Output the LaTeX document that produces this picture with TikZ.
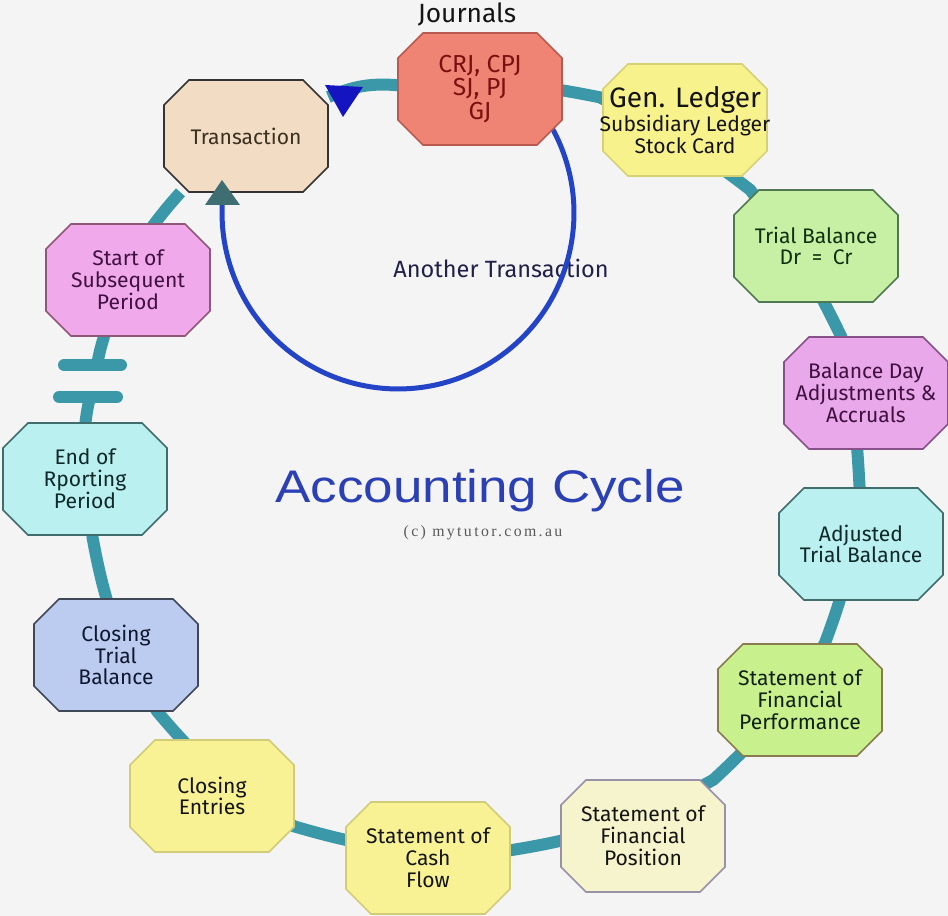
\documentclass[tikz,border=0pt]{standalone}
\usepackage{fontspec}
\setmainfont{Fira Sans}
\newfontfamily\titlefont{Liberation Sans}
\newfontfamily\cpyfont[LetterSpace=15]{Liberation Serif}
\pgfdeclarelayer{bg}
\pgfdeclarelayer{back}
\pgfdeclarelayer{mid}
\pgfsetlayers{bg,back,mid,main}
\definecolor{pagec}{HTML}{F4F4F4}
\definecolor{ringc}{HTML}{3A98A8}
\definecolor{loopblue}{HTML}{2444C8}
\definecolor{tipdark}{HTML}{3E6E72}
\definecolor{tipblue}{HTML}{1414C0}
\definecolor{titleblue}{HTML}{2A40B4}
\definecolor{navy}{HTML}{202048}
% box colours
\definecolor{transF}{HTML}{F2DCC4}\definecolor{transD}{HTML}{333333}\definecolor{transT}{HTML}{3A3020}
\definecolor{crjF}{HTML}{F08474}\definecolor{crjD}{HTML}{B85A50}\definecolor{crjT}{HTML}{7A1010}
\definecolor{yelF}{HTML}{F8F28C}\definecolor{yelD}{HTML}{D6D274}\definecolor{darkT}{HTML}{141414}
\definecolor{tbF}{HTML}{C8F0A4}\definecolor{tbD}{HTML}{507850}\definecolor{tbT}{HTML}{103010}
\definecolor{bdF}{HTML}{E8A8EA}\definecolor{bdD}{HTML}{885088}\definecolor{bdT}{HTML}{401040}
\definecolor{cyF}{HTML}{BAF0F0}\definecolor{cyD}{HTML}{406C6C}\definecolor{cyT}{HTML}{102828}
\definecolor{sfpF}{HTML}{C8F08C}\definecolor{sfpD}{HTML}{8A7A50}\definecolor{sfpT}{HTML}{102010}
\definecolor{posF}{HTML}{F6F4CC}\definecolor{posD}{HTML}{9A90A8}
\definecolor{ceF}{HTML}{F8F294}\definecolor{ceD}{HTML}{D0CC78}
\definecolor{ctbF}{HTML}{BCCCF0}\definecolor{ctbD}{HTML}{404858}\definecolor{ctbT}{HTML}{101830}
\definecolor{stF}{HTML}{F0AAEC}\definecolor{stD}{HTML}{905878}\definecolor{stT}{HTML}{401040}
% octagon outline of a box, fixed size 164 x 112, chamfer 25
\newcommand{\octbox}[3]{%
  \filldraw[fill=#2, draw=#3, line width=0.9pt]
    ([shift={(-57,56)}]#1.center) -- ([shift={(57,56)}]#1.center)
    -- ([shift={(82,31)}]#1.center) -- ([shift={(82,-31)}]#1.center)
    -- ([shift={(57,-56)}]#1.center) -- ([shift={(-57,-56)}]#1.center)
    -- ([shift={(-82,-31)}]#1.center) -- ([shift={(-82,31)}]#1.center) -- cycle;}
\begin{document}
\begin{tikzpicture}[x=0.02cm,y=0.02cm,
  box/.style={rectangle, minimum width=3.28cm, minimum height=2.24cm,
    inner sep=0pt, align=center, font=\fontsize{12}{12.4}\selectfont},
  ring/.style={draw=ringc, line width=0.24cm},
  bar/.style={draw=ringc, line width=0.24cm, line cap=round},
  loopline/.style={draw=loopblue, line width=0.1cm}]
\begin{pgfonlayer}{bg}
\fill[pagec] (0,0) rectangle (948,916);
\end{pgfonlayer}
\useasboundingbox (0,0) rectangle (948,916);

% boxes (text)
\node[box, text=transT] (trans) at (246,780) {Transaction};
\node[box, text=crjT, font=\fontsize{14}{12}\selectfont] (crj) at (480,827) {CRJ, CPJ\\SJ, PJ\\GJ};
\node[box, text=darkT] (gen) at (685,796)
  {{\fontsize{16}{16}\selectfont Gen. Ledger}\\Subsidiary Ledger\\Stock Card};
\node[box, text=tbT] (tb) at (816,670) {Trial Balance\\Dr\enspace=\enspace Cr};
\node[box, text=bdT] (bd) at (866,523) {Balance Day\\Adjustments \&\\Accruals};
\node[box, text=cyT] (atb) at (861,372) {Adjusted\\Trial Balance};
\node[box, text=sfpT] (sfp) at (800,216) {Statement of\\Financial\\Performance};
\node[box, text=darkT] (sfpos) at (643,80) {Statement of\\Financial\\Position};
\node[box, text=darkT] (scf) at (428,58) {Statement of\\Cash\\Flow};
\node[box, text=darkT] (ce) at (212,120) {Closing\\Entries};
\node[box, text=ctbT] (ctb) at (116,261) {Closing\\Trial\\Balance};
\node[box, text=cyT] (endp) at (85,437) {End of\\Rporting\\Period};
\node[box, text=stT] (start) at (128,636) {Start of\\Subsequent\\Period};

% box outlines
\begin{pgfonlayer}{mid}
\octbox{trans}{transF}{transD}
\octbox{crj}{crjF}{crjD}
\octbox{gen}{yelF}{yelD}
\octbox{tb}{tbF}{tbD}
\octbox{bd}{bdF}{bdD}
\octbox{atb}{cyF}{cyD}
\octbox{sfp}{sfpF}{sfpD}
\octbox{sfpos}{posF}{posD}
\octbox{scf}{ceF}{ceD}
\octbox{ce}{ceF}{ceD}
\octbox{ctb}{ctbF}{ctbD}
\octbox{endp}{cyF}{cyD}
\octbox{start}{stF}{stD}
\end{pgfonlayer}

% labels
\node[anchor=base, text=darkT, font=\fontsize{15}{15}\selectfont] (jl) at (467,893) {Journals};
\node[anchor=base, text=titleblue, font=\titlefont\fontsize{26}{26}\selectfont] (title) at (480,413)
  {\scalebox{1.16}[1]{Accounting Cycle}};
\node[anchor=base, text=black!65, font=\cpyfont\fontsize{9}{9}\selectfont] (cpy) at (483,379)
  {(c) mytutor.com.au};

% break coordinates
\coordinate (b1) at (97,551);
\coordinate (b2) at (90,519);
\coordinate (b1l) at (64,551);
\coordinate (b1r) at (121,551);
\coordinate (b2l) at (59,519);
\coordinate (b2r) at (117,519);
\coordinate (lc) at (398,703);

\begin{pgfonlayer}{back}
\draw[ring] (trans) to[bend left=14] (crj) to[bend left=8] (gen) to[bend left=6] (tb)
  to[bend left=6] (bd) to[bend left=4] (atb) to[bend left=8] (sfp) to[bend left=8] (sfpos)
  to[bend left=10] (scf) to[bend left=10] (ce) to[bend left=10] (ctb) to[bend left=10] (endp);
\draw[ring] (endp) to[bend left=3] (b2);
\draw[ring] (b1) to[bend left=3] (start) to[bend left=14] (trans);
\draw[bar] (b1l) -- (b1r);
\draw[bar] (b2l) -- (b2r);
\node[text=navy, font=\fontsize{13.4}{14}\selectfont, anchor=base] (another) at (501,638) {Another Transaction};
\draw[loopline] (lc) ++(36:3.52cm) arc[start angle=36, end angle=-182.6, radius=3.52cm];
\end{pgfonlayer}

% arrow heads
\fill[tipdark] (205,711) -- (240,711) -- (222,736) -- cycle;
\fill[tipblue] (325,831) -- (363,829) -- (343,799) -- cycle;
\end{tikzpicture}
\end{document}
